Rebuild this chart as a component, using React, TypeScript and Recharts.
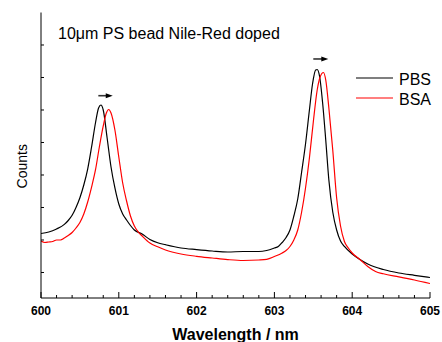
import React from 'react';
import { LineChart, Line, XAxis, YAxis, Legend, ReferenceLine, ReferenceDot, Label } from 'recharts';

// PBS spectrum (black)
const pbsWavelength = [
  600.0, 600.1, 600.2, 600.3, 600.35, 600.4, 600.45, 600.5, 600.55, 600.6, 600.65,
  600.7, 600.74, 600.77, 600.8, 600.85, 600.9, 600.95, 601.0, 601.05, 601.1,
  601.15, 601.2, 601.3, 601.4, 601.5, 601.6, 601.8, 602.0, 602.2, 602.4,
  602.6, 602.8, 602.9, 603.0, 603.05, 603.1, 603.15, 603.2, 603.25, 603.3,
  603.35, 603.4, 603.45, 603.49, 603.53, 603.55, 603.58, 603.62, 603.66, 603.7,
  603.75, 603.8, 603.85, 603.9, 604.0, 604.1, 604.2, 604.4, 604.6, 604.8,
  605.0,
];
const pbsCounts = [
  2200, 2246, 2340, 2480, 2600, 2760, 3000, 3300, 3692, 4184, 4861,
  5600, 6061, 6154, 6000, 5138, 4246, 3600, 3107, 2800, 2615,
  2446, 2307, 2184, 2015, 1915, 1855, 1754, 1704, 1661, 1631,
  1646, 1646, 1677, 1754, 1800, 1923, 2077, 2307, 2738, 3261,
  4092, 4954, 6000, 6800, 7231, 7246, 7046, 6215, 5077, 3846,
  2861, 2307, 1969, 1800, 1569, 1400, 1261, 1092, 984, 913,
  846,
];

// BSA spectrum (red)
const bsaWavelength = [
  600.0, 600.05, 600.1, 600.15, 600.2, 600.25, 600.3, 600.35, 600.4, 600.45,
  600.5, 600.55, 600.6, 600.65, 600.7, 600.75, 600.8, 600.84, 600.87, 600.9,
  600.95, 601.0, 601.05, 601.1, 601.15, 601.2, 601.25, 601.3, 601.4, 601.5,
  601.6, 601.8, 602.0, 602.2, 602.4, 602.6, 602.8, 602.9, 603.0, 603.1,
  603.15, 603.2, 603.25, 603.3, 603.35, 603.4, 603.45, 603.5, 603.55, 603.59,
  603.63, 603.66, 603.7, 603.75, 603.8, 603.85, 603.9, 603.95, 604.0, 604.1,
  604.2, 604.3, 604.4, 604.6, 604.8, 605.0,
];
const bsaCounts = [
  1969, 1923, 1938, 1954, 2000, 2000, 2061, 2138, 2230, 2369,
  2538, 2800, 3169, 3630, 4154, 4861, 5508, 5908, 6015, 5908,
  5384, 4554, 3754, 3200, 2738, 2430, 2246, 2123, 1907, 1790,
  1692, 1569, 1498, 1446, 1397, 1369, 1384, 1406, 1492, 1600,
  1677, 1800, 2000, 2307, 2861, 3600, 4523, 5631, 6615, 7030,
  7154, 6923, 6061, 4769, 3292, 2430, 1954, 1754, 1600, 1400,
  1184, 1030, 960, 867, 769, 661,
];

const seriesOrder = ['PBS', 'BSA'];

const xTicks = [
  600, 600.2, 600.4, 600.6, 600.8, 601, 601.2, 601.4, 601.6, 601.8,
  602, 602.2, 602.4, 602.6, 602.8, 603, 603.2, 603.4, 603.6, 603.8,
  604, 604.2, 604.4, 604.6, 604.8, 605,
];
const yTicks = [1000, 2000, 3000, 4000, 5000, 6000, 7000, 8000];

// shift arrows above the peaks: [from, to, level]
const shiftArrows = [
  [600.737, 600.922, 6440],
  [603.5, 603.693, 7570],
];

const FONT = '"Liberation Sans", Arial, sans-serif';

const pbsData = pbsWavelength.map((w, i) => ({ w, c: pbsCounts[i] }));
const bsaData = bsaWavelength.map((w, i) => ({ w, c: bsaCounts[i] }));

const XTick = ({ x, y, payload }: any) => {
  const major = Math.abs(payload.value - Math.round(payload.value)) < 1e-6;
  return (
    <g>
      <line x1={x} x2={x} y1={y} y2={y - (major ? 6 : 3)} stroke="#000" strokeWidth={1} />
      {major && (
        <text x={x} y={y + 17} textAnchor="middle" fontFamily={FONT} fontSize={12} fontWeight="bold" fill="#000">
          {Math.round(payload.value)}
        </text>
      )}
    </g>
  );
};

const YTick = ({ x, y }: any) => (
  <line x1={x} x2={x + 3} y1={y} y2={y} stroke="#000" strokeWidth={1} />
);

const ArrowHead = ({ cx, cy }: any) => (
  <path d={`M${cx - 7},${cy - 2.5} L${cx},${cy} L${cx - 7},${cy + 2.5} Z`} fill="#000" />
);

const renderLegend = (props: any) => {
  const items = [...props.payload].sort(
    (a: any, b: any) => seriesOrder.indexOf(a.value) - seriesOrder.indexOf(b.value)
  );
  return (
    <svg width={90} height={45}>
      {items.map((entry: any, i: number) => (
        <g key={entry.value}>
          <line x1={0} x2={37} y1={10 + 20 * i} y2={10 + 20 * i} stroke={entry.color} strokeWidth={1.2} />
          <text x={43} y={16.5 + 20 * i} fontFamily={FONT} fontSize={16} fill="#000">
            {entry.value}
          </text>
        </g>
      ))}
    </svg>
  );
};

export default function App() {
  return (
    <div style={{ position: 'absolute', left: 0, top: 0, width: 442, height: 342, background: '#fff' }}>
      <LineChart width={442} height={342} margin={{ top: 12.5, right: 12, left: 0, bottom: 0 }}>
        <XAxis
          type="number"
          dataKey="w"
          domain={[600, 605]}
          ticks={xTicks}
          interval={0}
          allowDataOverflow
          height={44}
          tickSize={0}
          tickMargin={0}
          tickLine={false}
          tick={<XTick />}
          axisLine={{ stroke: '#000', strokeWidth: 1 }}
        >
          <Label
            content={({ viewBox }: any) => (
              <text
                x={viewBox.x + viewBox.width / 2}
                y={viewBox.y + 41.5}
                textAnchor="middle"
                fontFamily={FONT}
                fontSize={16}
                fontWeight="bold"
                fill="#000"
              >
                Wavelength / nm
              </text>
            )}
          />
        </XAxis>
        <YAxis
          type="number"
          domain={[215, 9000]}
          ticks={yTicks}
          interval={0}
          allowDataOverflow
          width={41}
          tickSize={0}
          tickMargin={0}
          tickLine={false}
          tick={<YTick />}
          axisLine={{ stroke: '#000', strokeWidth: 1 }}
        >
          <Label
            content={({ viewBox }: any) => {
              const cx = viewBox.x + 27;
              const cy = viewBox.y + viewBox.height / 2 + 11;
              return (
                <text
                  x={cx}
                  y={cy}
                  transform={`rotate(-90, ${cx}, ${cy})`}
                  textAnchor="middle"
                  fontFamily={FONT}
                  fontSize={14}
                  fill="#000"
                >
                  Counts
                </text>
              );
            }}
          />
        </YAxis>
        <Legend
          layout="vertical"
          align="center"
          verticalAlign="middle"
          content={renderLegend}
          wrapperStyle={{ left: 356, top: 67.7, width: 90, height: 45 }}
        />
        <Line
          name="PBS"
          data={pbsData}
          dataKey="c"
          type="monotone"
          stroke="#000000"
          strokeWidth={1.2}
          dot={false}
          isAnimationActive={false}
        />
        <Line
          name="BSA"
          data={bsaData}
          dataKey="c"
          type="monotone"
          stroke="#ff0000"
          strokeWidth={1.2}
          dot={false}
          isAnimationActive={false}
        />
        {shiftArrows.map(([from, to, level], i) => (
          <ReferenceLine
            key={`s${i}`}
            segment={[{ x: from, y: level }, { x: to - 0.06, y: level }]}
            stroke="#333"
            strokeWidth={1.6}
          />
        ))}
        {shiftArrows.map(([, to, level], i) => (
          <ReferenceDot key={`h${i}`} x={to} y={level} shape={<ArrowHead />} />
        ))}
      </LineChart>
      <svg
        width={442}
        height={342}
        style={{ position: 'absolute', left: 0, top: 0, pointerEvents: 'none' }}
      >
        <text x={58} y={38.5} fontFamily={FONT} fontSize={16} fill="#000">
          10μm PS bead Nile-Red doped
        </text>
      </svg>
    </div>
  );
}
